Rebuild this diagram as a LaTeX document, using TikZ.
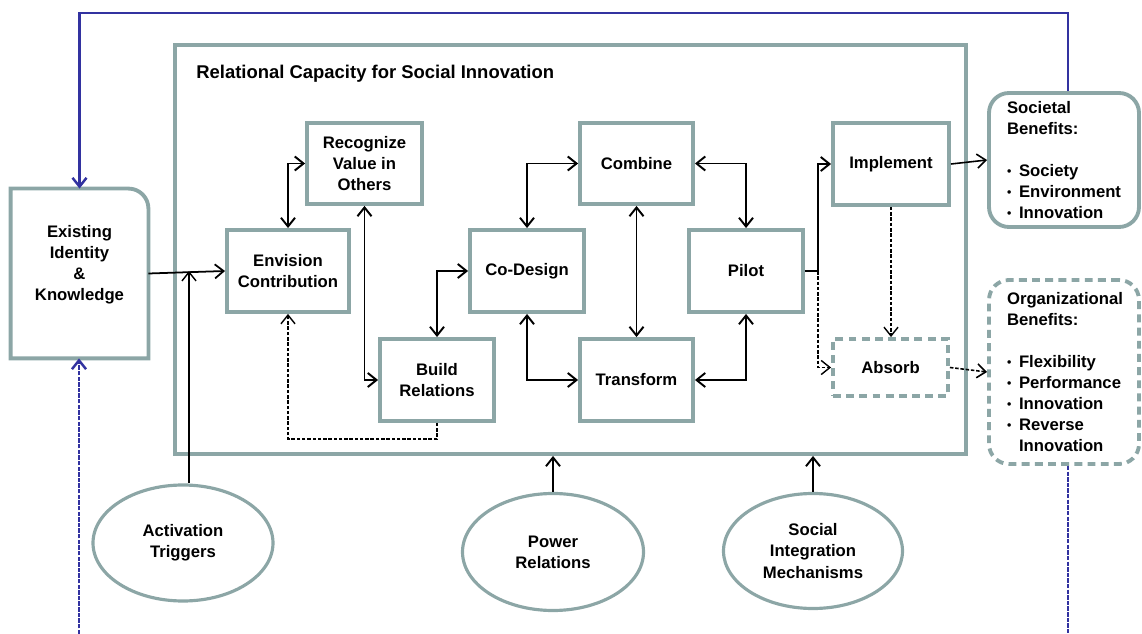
\documentclass[tikz,border=0pt]{standalone}
\usepackage{fontspec}
\setmainfont{Liberation Sans}
\usetikzlibrary{arrows.meta,shapes.geometric}
\definecolor{boxgray}{RGB}{140,166,166}
\definecolor{fblue}{RGB}{50,50,160}
\newcommand{\blt}{\makebox[0.24cm][l]{\raisebox{0.5pt}{\scriptsize •}}}
\tikzset{
  sz/.style 2 args={minimum width=#1*0.02cm, minimum height=#2*0.02cm},
  txt/.style={font=\fontsize{9.5}{12}\selectfont\bfseries},
  box/.style={txt,draw=boxgray,line width=2.2pt,rectangle,inner sep=0pt,align=center},
  dbox/.style={box,dash pattern=on 4.5pt off 3pt},
  oval/.style={txt,draw=boxgray,line width=1.8pt,ellipse,inner sep=0pt,align=center},
  tip/.tip={Straight Barb[length=5pt,width=8pt]},
  conn/.style={line width=1.1pt,draw=black},
  arr/.style={conn,-tip},
  darr/.style={conn,tip-tip},
  dsh/.style={dash pattern=on 2pt off 1pt},
  blueline/.style={draw=fblue,line width=1.4pt},
  bdsh/.style={dash pattern=on 2.5pt off 0.7pt},
}
\begin{document}
\begin{tikzpicture}[x=0.02cm,y=-0.02cm]
\useasboundingbox (0,0) rectangle (1142,634);

% frame and title
\node[box, sz={791}{409}] (frame) at (570.5,249.5) {};
\node[font=\fontsize{10.5}{12}\selectfont\bfseries, anchor=west, inner sep=0pt] (title) at (196,74) {Relational Capacity for Social Innovation};

% existing identity
\node[box, draw=none, sz={134}{166}] (exist) at (79.5,273.5) {Existing\\Identity\\\&\\Knowledge\\\mbox{}};
\draw[draw=boxgray, line width=2.2pt] (exist.south west) -- (exist.north west) -- ([xshift=-0.4cm]exist.north east) arc[start angle=90,end angle=0,radius=0.4cm] -- (exist.south east) -- cycle;

% process boxes
\node[box, sz={115}{81}] (recog) at (364.5,163.5) {Recognize\\Value in\\Others};
\node[box, sz={122}{82}] (envis) at (288,271) {Envision\\Contribution};
\node[box, sz={114}{82}] (build) at (437,380) {Build\\Relations};
\node[box, sz={114}{82}] (codes) at (527,271) {Co-Design};
\node[box, sz={113}{81}] (comb) at (636.5,163.5) {Combine};
\node[box, sz={113}{82}] (trans) at (636.5,380) {Transform};
\node[box, sz={114}{82}] (pilot) at (746,271) {Pilot};
\node[box, sz={116}{82}] (impl) at (891,164) {Implement};
\node[dbox, sz={115}{57}] (abs) at (890.5,367.5) {Absorb};

% benefits
\node[box, rounded corners=0.4cm, sz={150}{134}, text width=2.28cm, inner xsep=0.36cm, align=left] (soc) at (1064,160)
  {Societal\\Benefits:\\[12pt]\blt Society\\\blt Environment\\\blt Innovation};
\node[dbox, rounded corners=0.4cm, sz={150}{184}, text width=2.28cm, inner xsep=0.36cm, align=left] (org) at (1064,372)
  {Organizational\\Benefits:\\[12pt]\blt Flexibility\\\blt Performance\\\blt Innovation\\\blt Reverse\\\hspace*{0.24cm}Innovation};

% ellipses
\node[oval, sz={180}{116}] (act) at (183,543) {Activation\\Triggers};
\node[oval, sz={181}{117}] (pow) at (553,552) {Power\\Relations};
\node[oval, sz={179}{115}] (sim) at (813,551) {Social\\Integration\\Mechanisms};

% helper coordinates
\coordinate (actj) at (189,271);
\coordinate (pj) at (818,271);
\coordinate (loop) at (437,439);
\coordinate (btop) at (1068,13);
\coordinate (bbl) at (79,634);
\coordinate (bbr) at (1068,634);

% connectors
\draw[arr, line width=1pt] (exist.east) -- (envis.west);
\draw[arr, line width=0.8pt] (act.north -| actj) -- (actj);
\draw[darr] (envis.north) |- (recog.west);
\draw[darr] (recog.south) |- (build.west);
\draw[darr] (build.north) |- (codes.west);
\draw[darr] (codes.north) |- (comb.west);
\draw[darr] (codes.south) |- (trans.west);
\draw[darr] (comb.south) -- (trans.north);
\draw[darr] (comb.east) -| (pilot.north);
\draw[darr] (trans.east) -| (pilot.south);
\draw[arr] (pilot.east) -- (pj) |- (impl.west);
\draw[arr, dsh, line width=0.8pt] (pj) |- (abs.west);
\draw[arr, dsh, line width=0.8pt] (impl.south) -- (impl.south |- abs.north);
\draw[arr, line width=0.9pt] (impl.east) -- (soc.west);
\draw[arr, dsh, line width=0.9pt] (abs.east) -- (org.west);
\draw[arr, dsh, line width=0.8pt] (build.south) -- (loop) -| (envis.south);
\draw[arr] (pow.north) -- (pow.north |- frame.south);
\draw[arr] (sim.north) -- (sim.north |- frame.south);

% blue feedback lines
\draw[blueline, -tip] (soc.north -| btop) -- (btop) -| (exist.north);
\draw[blueline, bdsh, -tip] (bbl) -- (exist.south -| bbl);
\draw[blueline, bdsh] (org.south -| bbr) -- (bbr);
\end{tikzpicture}
\end{document}
